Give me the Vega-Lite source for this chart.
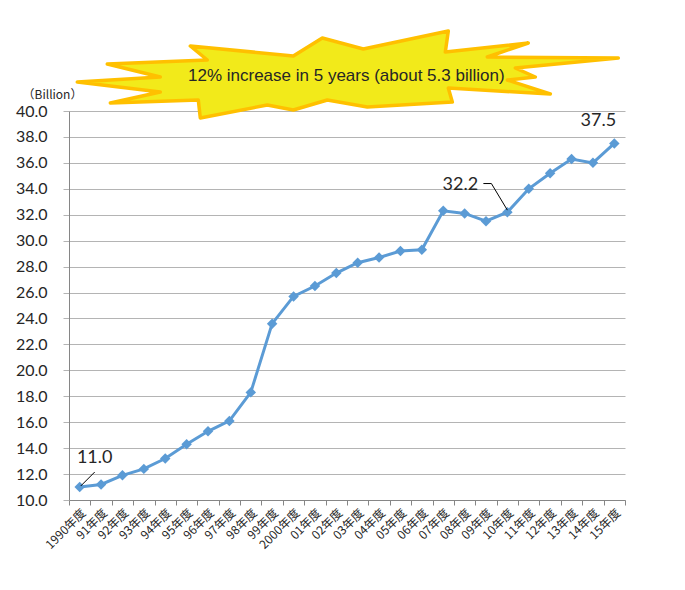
{
  "$schema": "https://vega.github.io/schema/vega-lite/v6.json",
  "width": 556,
  "height": 389,
  "autosize": {"type": "none"},
  "padding": {"left": 69, "top": 111, "right": 60, "bottom": 90},
  "background": "white",
  "config": {"view": {"stroke": null}, "font": "Lato"},
  "datasets": {
    "revenue": [
      {"fy": "1990年度", "v": 11.0},
      {"fy": "91年度", "v": 11.2},
      {"fy": "92年度", "v": 11.9},
      {"fy": "93年度", "v": 12.4},
      {"fy": "94年度", "v": 13.2},
      {"fy": "95年度", "v": 14.3},
      {"fy": "96年度", "v": 15.3},
      {"fy": "97年度", "v": 16.1},
      {"fy": "98年度", "v": 18.3},
      {"fy": "99年度", "v": 23.6},
      {"fy": "2000年度", "v": 25.7},
      {"fy": "01年度", "v": 26.5},
      {"fy": "02年度", "v": 27.5},
      {"fy": "03年度", "v": 28.3},
      {"fy": "04年度", "v": 28.7},
      {"fy": "05年度", "v": 29.2},
      {"fy": "06年度", "v": 29.3},
      {"fy": "07年度", "v": 32.3},
      {"fy": "08年度", "v": 32.1},
      {"fy": "09年度", "v": 31.5},
      {"fy": "10年度", "v": 32.2},
      {"fy": "11年度", "v": 34.0},
      {"fy": "12年度", "v": 35.2},
      {"fy": "13年度", "v": 36.3},
      {"fy": "14年度", "v": 36.0},
      {"fy": "15年度", "v": 37.5}
    ],
    "notes": [
      {"fy": "1990年度", "v": 11.0, "label": "11.0"},
      {"fy": "10年度", "v": 32.2, "label": "32.2"},
      {"fy": "15年度", "v": 37.5, "label": "37.5"}
    ],
    "callout": [
      {"fy": "02年度", "v": 40, "caption": "12% increase in 5 years (about 5.3 billion)"}
    ]
  },
  "encoding": {
    "x": {
      "field": "fy",
      "type": "ordinal",
      "scale": {
        "type": "band",
        "paddingInner": 0,
        "paddingOuter": 0,
        "domain": ["1990年度", "91年度", "92年度", "93年度", "94年度", "95年度", "96年度", "97年度", "98年度", "99年度", "2000年度", "01年度", "02年度", "03年度", "04年度", "05年度", "06年度", "07年度", "08年度", "09年度", "10年度", "11年度", "12年度", "13年度", "14年度", "15年度"]
      },
      "axis": {
        "title": null,
        "labelAngle": -45,
        "labelAlign": "right",
        "labelBaseline": "top",
        "labelFont": "Noto Sans CJK JP",
        "labelFontSize": 12,
        "labelColor": "#262626",
        "labelPadding": 2,
        "labelOverlap": false,
        "tickBand": "extent",
        "tickColor": "#868686",
        "tickSize": 5,
        "domainColor": "#868686",
        "grid": false
      }
    },
    "y": {
      "field": "v",
      "type": "quantitative",
      "scale": {"domain": [10, 40], "nice": false, "zero": false},
      "axis": {
        "title": "（Billion）",
        "titleAngle": 0,
        "titleX": -17,
        "titleY": -17,
        "titleAlign": "center",
        "titleBaseline": "middle",
        "titleFont": "Noto Sans CJK JP",
        "titleFontSize": 12,
        "titleFontWeight": "normal",
        "titleColor": "#262626",
        "values": [10, 12, 14, 16, 18, 20, 22, 24, 26, 28, 30, 32, 34, 36, 38, 40],
        "format": ".1f",
        "labelFont": "Lato",
        "labelFontSize": 16,
        "labelColor": "#262626",
        "labelPadding": 16,
        "tickSize": 6,
        "tickColor": "#B4B4B4",
        "gridColor": "#B4B4B4",
        "domainColor": "#868686"
      }
    }
  },
  "layer": [
    {
      "data": {"name": "revenue"},
      "mark": {
        "type": "line",
        "color": "#5B9BD5",
        "strokeWidth": 3,
        "point": {"shape": "diamond", "size": 110, "filled": true, "color": "#5B9BD5", "opacity": 1}
      }
    },
    {
      "data": {"name": "callout"},
      "mark": {
        "type": "point",
        "shape": "M214,-17 L112,-23 L116,-9 L31,-4 L-9,-11 L-43,-1 L-69,-6 L-136,7 L-138,-11 L-226,-8 L-176,-19 L-259,-29 L-176,-34 L-229,-47 L-129,-51 L-146,-65 L-43,-55 L-14,-73 L27,-62 L112,-80 L109,-59 L192,-68 L151,-54 L282,-53 L179,-43 L199,-34 L171,-31 Z",
        "size": 4,
        "filled": true,
        "fill": "#F2EA1A",
        "stroke": "#FFC000",
        "strokeWidth": 3.5,
        "strokeJoin": "round",
        "opacity": 1,
        "fillOpacity": 1
      }
    },
    {
      "data": {"name": "callout"},
      "mark": {
        "type": "text",
        "font": "Liberation Sans",
        "fontSize": 17,
        "color": "#262626",
        "align": "center",
        "baseline": "middle",
        "dx": 10,
        "dy": -35
      },
      "encoding": {"text": {"field": "caption"}}
    },
    {
      "data": {"name": "notes"},
      "transform": [{"filter": "datum.label === '11.0'"}],
      "mark": {
        "type": "point",
        "shape": "M1,-1 L15,-15",
        "size": 4,
        "filled": false,
        "stroke": "#000000",
        "strokeWidth": 1,
        "opacity": 1
      }
    },
    {
      "data": {"name": "notes"},
      "transform": [{"filter": "datum.label === '32.2'"}],
      "mark": {
        "type": "point",
        "shape": "M0,-2 L-16,-28.6 L-24,-28.6",
        "size": 4,
        "filled": false,
        "stroke": "#000000",
        "strokeWidth": 1,
        "opacity": 1
      }
    },
    {
      "data": {"name": "notes"},
      "transform": [{"filter": "datum.label === '11.0'"}],
      "mark": {"type": "text", "font": "Lato", "fontSize": 18, "color": "#262626", "align": "center", "baseline": "middle", "dx": 15, "dy": -29},
      "encoding": {"text": {"field": "label"}}
    },
    {
      "data": {"name": "notes"},
      "transform": [{"filter": "datum.label === '32.2'"}],
      "mark": {"type": "text", "font": "Lato", "fontSize": 18, "color": "#262626", "align": "center", "baseline": "middle", "dx": -47, "dy": -27},
      "encoding": {"text": {"field": "label"}}
    },
    {
      "data": {"name": "notes"},
      "transform": [{"filter": "datum.label === '37.5'"}],
      "mark": {"type": "text", "font": "Lato", "fontSize": 18, "color": "#262626", "align": "center", "baseline": "middle", "dx": -16, "dy": -22},
      "encoding": {"text": {"field": "label"}}
    }
  ]
}
